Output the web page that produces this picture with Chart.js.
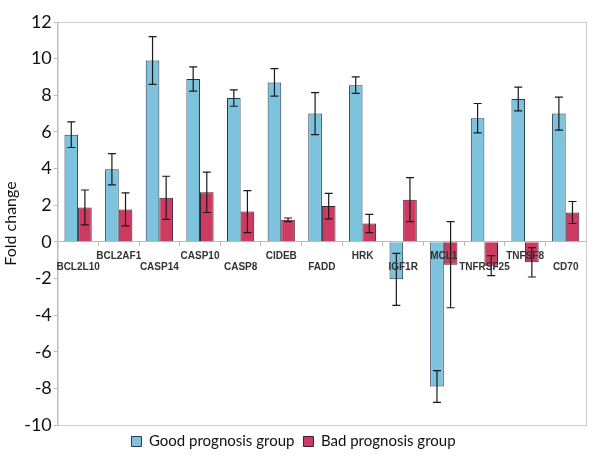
<!DOCTYPE html>
<html>
<head>
<meta charset="utf-8">
<script src="https://cdn.jsdelivr.net/npm/chart.js@4"></script>
<style>
  html, body { margin: 0; padding: 0; background: #fff; }
  #wrap { width: 600px; height: 473px; }
</style>
</head>
<body>
<div id="wrap"><canvas id="chart"></canvas></div>
<script>
// data
const genes = ["BCL2L10", "BCL2AF1", "CASP14", "CASP10", "CASP8", "CIDEB", "FADD",
  "HRK", "IGF1R", "MCL1", "TNFRSF25", "TNFSF8", "CD70"];
const goodValues = [5.85, 3.96, 9.9, 8.89, 7.85, 8.7, 7.0, 8.55, -2.05, -7.9, 6.75, 7.8, 7.0];
const goodErrors = [0.7, 0.85, 1.3, 0.66, 0.45, 0.75, 1.15, 0.45, 1.42, 0.87, 0.8, 0.65, 0.9];
const badValues = [1.88, 1.77, 2.4, 2.7, 1.65, 1.2, 1.95, 1.0, 2.3, -1.25, -1.3, -1.12, 1.6];
const badErrors = [0.95, 0.9, 1.18, 1.1, 1.15, 0.1, 0.7, 0.5, 1.2, 2.35, 0.55, 0.8, 0.6];
const yTicks = [-10, -8, -6, -4, -2, 0, 2, 4, 6, 8, 10, 12];

const narrow = "Lato, 'DejaVu Sans', sans-serif";

// staggered labels: even ones sit one line lower
const xLabels = genes.map((g, i) => (i % 2 === 0 ? ["", g] : [g]));

const errorBars = {
  id: "errorBars",
  afterDatasetsDraw(chart) {
    const ctx = chart.ctx;
    const y = chart.scales.y;
    const errs = [goodErrors, badErrors];
    ctx.save();
    ctx.strokeStyle = "#1a1a1a";
    ctx.lineWidth = 1.2;
    chart.data.datasets.forEach((ds, d) => {
      const meta = chart.getDatasetMeta(d);
      meta.data.forEach((bar, i) => {
        const v = ds.data[i];
        const e = errs[d][i];
        const top = y.getPixelForValue(v + e);
        const bot = y.getPixelForValue(v - e);
        const cap = 4;
        ctx.beginPath();
        ctx.moveTo(bar.x, top); ctx.lineTo(bar.x, bot);
        ctx.moveTo(bar.x - cap, top); ctx.lineTo(bar.x + cap, top);
        ctx.moveTo(bar.x - cap, bot); ctx.lineTo(bar.x + cap, bot);
        ctx.stroke();
      });
    });
    ctx.restore();
  }
};

const frame = {
  id: "frame",
  beforeDatasetsDraw(chart) {
    const a = chart.chartArea;
    const ctx = chart.ctx;
    ctx.save();
    ctx.strokeStyle = "#cfcfcf";
    ctx.lineWidth = 1;
    ctx.strokeRect(a.left + 0.5, a.top + 0.5, a.right - a.left, a.bottom - a.top);
    ctx.restore();
  }
};

new Chart(document.getElementById("chart"), {
  type: "bar",
  data: {
    labels: xLabels,
    datasets: [
      {
        label: "Good prognosis group",
        data: goodValues,
        backgroundColor: "#7dc3dd",
        borderColor: "#26384a",
        borderWidth: 1
      },
      {
        label: "Bad prognosis group",
        data: badValues,
        backgroundColor: "#cf3a62",
        borderColor: "#3a2030",
        borderWidth: 1
      }
    ]
  },
  options: {
    responsive: true,
    maintainAspectRatio: false,
    animation: false,
    layout: { padding: { top: 22, right: 14, left: 1, bottom: 14 } },
    datasets: { bar: { categoryPercentage: 0.67, barPercentage: 1 } },
    plugins: {
      tooltip: { enabled: false },
      legend: {
        position: "bottom",
        labels: {
          boxWidth: 10,
          boxHeight: 10,
          padding: 9,
          color: "#111",
          font: { family: narrow, size: 15 }
        }
      }
    },
    scales: {
      x: {
        position: { y: 0 },
        offset: true,
        grid: { drawOnChartArea: false, drawTicks: true, tickLength: 4, offset: true, color: "#bbb" },
        border: { color: "#bbb" },
        ticks: {
          z: 1,
          autoSkip: false,
          maxRotation: 0,
          padding: 5,
          color: "#333",
          font: { family: "'Liberation Sans', Arial, sans-serif", size: 10, weight: "bold", lineHeight: 1.1 }
        }
      },
      y: {
        min: yTicks[0],
        max: yTicks[yTicks.length - 1],
        grid: { drawOnChartArea: false, drawTicks: true, tickLength: 4, color: "#bbb" },
        border: { color: "#bbb" },
        afterBuildTicks(axis) { axis.ticks = yTicks.map(v => ({ value: v })); },
        ticks: {
          color: "#111",
          padding: 2,
          font: { family: narrow, size: 18 }
        },
        title: {
          display: true,
          text: "Fold change",
          color: "#111",
          padding: { top: 0, bottom: 2 },
          font: { family: narrow, size: 16 }
        }
      }
    }
  },
  plugins: [frame, errorBars]
});
</script>
</body>
</html>
